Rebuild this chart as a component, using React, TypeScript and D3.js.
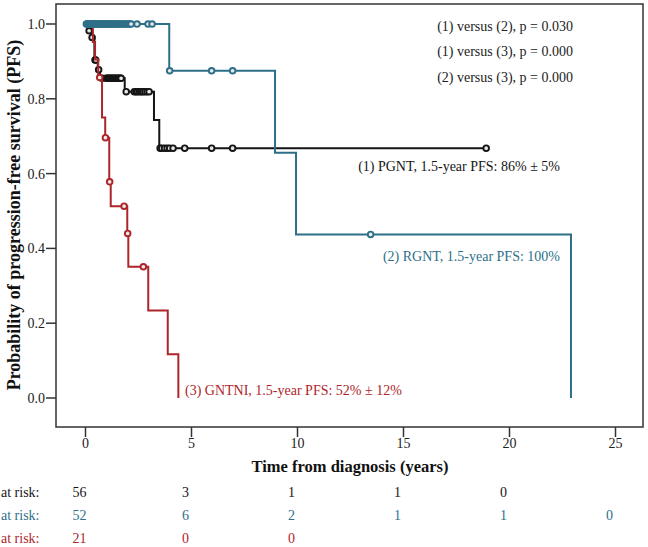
import React from "react";
import * as d3 from "d3";

// ---- data ----
const xTicks = [0, 5, 10, 15, 20, 25];
const yTicks = [0, 0.2, 0.4, 0.6, 0.8, 1.0];

// (1) PGNT
const pgntTimes = [0, 0.15, 0.3, 0.42, 0.58, 0.68, 1.85, 3.23, 3.48];
const pgntSurv = [1, 0.982, 0.964, 0.904, 0.878, 0.855, 0.819, 0.743, 0.668];
const pgntEnd = 18.9;
const pgntCensor = [0.17, 0.31, 0.45, 0.48, 0.62, 0.78, 0.97, 1.02, 1.08, 1.12, 1.18, 1.22, 1.28, 1.33, 1.38, 1.43, 1.5, 1.55, 1.6, 1.65, 1.68, 1.92, 2.3, 2.38, 2.45, 2.55, 2.62, 2.7, 2.8, 2.9, 3.0, 3.52, 3.6, 3.73, 3.85, 3.97, 4.13, 4.68, 5.95, 6.94, 18.9];

// (2) RGNT
const rgntTimes = [0, 3.95, 8.94, 9.93, 22.9];
const rgntSurv = [1, 0.875, 0.656, 0.4375, 0];
const rgntEnd = 22.9;
const rgntCensor = [0.04, 0.08, 0.12, 0.16, 0.2, 0.24, 0.28, 0.33, 0.37, 0.41, 0.45, 0.5, 0.55, 0.6, 0.65, 0.7, 0.75, 0.8, 0.85, 0.9, 0.95, 1.0, 1.05, 1.1, 1.15, 1.2, 1.26, 1.32, 1.38, 1.44, 1.5, 1.56, 1.62, 1.68, 1.75, 1.82, 1.9, 1.97, 2.03, 2.1, 2.15, 2.43, 2.95, 3.14, 3.97, 5.95, 6.94, 13.45];

// (3) GNTNI
const gntniTimes = [0, 0.35, 0.45, 0.6, 0.78, 0.93, 1.12, 1.19, 1.97, 2.02, 2.96, 3.88, 4.38];
const gntniSurv = [1, 0.952, 0.905, 0.857, 0.75, 0.696, 0.578, 0.513, 0.44, 0.351, 0.234, 0.117, 0];
const gntniEnd = 4.38;
const gntniCensor = [0.67, 0.94, 1.14, 1.82, 1.99, 2.73];

// at risk
const riskTimes = [0, 5, 10, 15, 20, 25];
const riskPGNT = [56, 3, 1, 1, 0];
const riskRGNT = [52, 6, 2, 1, 1, 0];
const riskGNTNI = [21, 0, 0];

const pValues = ["(1) versus (2), p = 0.030", "(1) versus (3), p = 0.000", "(2) versus (3), p = 0.000"];

const BLACK = "#151515";
const TEAL = "#2e6f88";
const RED = "#ad2529";
const FONT = "'Liberation Serif', 'Times New Roman', serif";

const x = d3.scaleLinear().domain([0, 25]).range([85.5, 615.5]);
const y = d3.scaleLinear().domain([0, 1]).range([398, 24]);

const line = d3
  .line<[number, number]>()
  .x((d) => x(d[0]))
  .y((d) => y(d[1]))
  .curve(d3.curveStepAfter);

function Series({ times, surv, end, censor, color }: { times: number[]; surv: number[]; end: number; censor: number[]; color: string }) {
  const pts: [number, number][] = times.map((t, i) => [t, surv[i]]);
  if (end > times[times.length - 1]) pts.push([end, surv[surv.length - 1]]);
  const survAt = (t: number) => surv[Math.max(0, d3.bisectRight(times, t) - 1)];
  return (
    <g>
      <path d={line(pts) || ""} fill="none" stroke={color} strokeWidth={2} />
      {censor.map((t, i) => (
        <circle key={i} cx={x(t)} cy={y(survAt(t))} r={2.8} fill="#e8e8e8" stroke={color} strokeWidth={1.9} />
      ))}
    </g>
  );
}

export default function App() {
  const frame = { l: 56, t: 4, r: 643, b: 427 };
  return (
    <div style={{ position: "absolute", left: 0, top: 0 }}>
      <svg width={648} height={547} style={{ display: "block", fontFamily: FONT }}>
        <rect x={0} y={0} width={648} height={547} fill="#fff" />
        <rect x={frame.l} y={frame.t} width={frame.r - frame.l} height={frame.b - frame.t} fill="none" stroke="#333" strokeWidth={1.5} />
        {yTicks.map((v) => (
          <g key={v}>
            <line x1={frame.l - 10} x2={frame.l} y1={y(v)} y2={y(v)} stroke="#333" strokeWidth={1.5} />
            <text x={frame.l - 11} y={y(v)} dy="0.35em" textAnchor="end" fontSize={14} fill="#222">
              {v.toFixed(1)}
            </text>
          </g>
        ))}
        {xTicks.map((v) => (
          <g key={v}>
            <line x1={x(v)} x2={x(v)} y1={frame.b} y2={frame.b + 10} stroke="#333" strokeWidth={1.5} />
            <text x={x(v)} y={443} dy="0.35em" textAnchor="middle" fontSize={14} fill="#222">
              {v}
            </text>
          </g>
        ))}
        <text x={350} y={466} dy="0.35em" textAnchor="middle" fontSize={16.5} fontWeight="bold" fill="#111">
          Time from diagnosis (years)
        </text>
        <text transform={`translate(14,215) rotate(-90)`} dy="0.35em" textAnchor="middle" fontSize={18} fontWeight="bold" fill="#111">
          Probability of progression-free survival (PFS)
        </text>

        <Series times={pgntTimes} surv={pgntSurv} end={pgntEnd} censor={pgntCensor} color={BLACK} />
        <Series times={gntniTimes} surv={gntniSurv} end={gntniEnd} censor={gntniCensor} color={RED} />
        <Series times={rgntTimes} surv={rgntSurv} end={rgntEnd} censor={rgntCensor} color={TEAL} />

        {pValues.map((s, i) => (
          <text key={i} x={573} y={26 + i * 25.5} dy="0.35em" textAnchor="end" fontSize={14} fill="#222">
            {s}
          </text>
        ))}
        <text x={560} y={166} dy="0.35em" textAnchor="end" fontSize={14} fill={BLACK}>
          (1) PGNT, 1.5-year PFS: 86% ± 5%
        </text>
        <text x={560} y={256} dy="0.35em" textAnchor="end" fontSize={14} fill={TEAL}>
          (2) RGNT, 1.5-year PFS: 100%
        </text>
        <text x={185} y={390} dy="0.35em" textAnchor="start" fontSize={14} fill={RED}>
          (3) GNTNI, 1.5-year PFS: 52% ± 12%
        </text>

        {[
          { vals: riskPGNT, color: BLACK, yy: 492 },
          { vals: riskRGNT, color: TEAL, yy: 515 },
          { vals: riskGNTNI, color: RED, yy: 538 },
        ].map((row, ri) => (
          <g key={ri} fill={row.color} fontSize={14}>
            <text x={1} y={row.yy} dy="0.35em">
              at risk:
            </text>
            {row.vals.map((v, i) => (
              <text key={i} x={x(riskTimes[i]) - 6} y={row.yy} dy="0.35em" textAnchor="middle">
                {v}
              </text>
            ))}
          </g>
        ))}
      </svg>
    </div>
  );
}
